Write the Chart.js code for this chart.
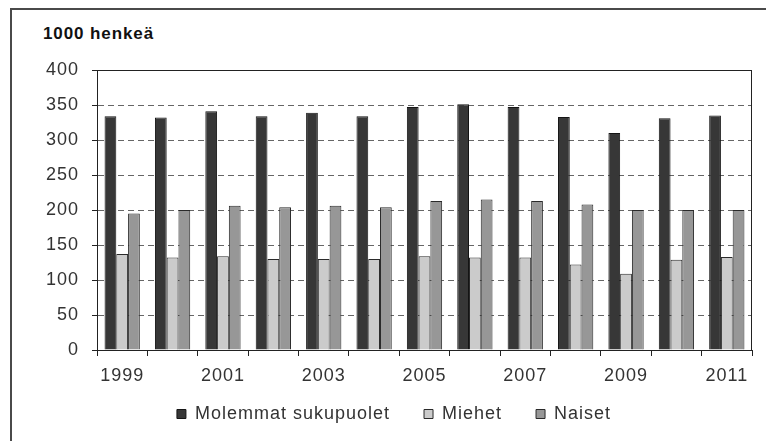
<!DOCTYPE html>
<html>
<head>
<meta charset="utf-8">
<script src="https://cdn.jsdelivr.net/npm/chart.js@4/dist/chart.umd.min.js"></script>
<style>
    html, body { margin: 0; padding: 0; background: #fff; }
    .wrap { position: relative; width: 766px; height: 441px; overflow: hidden; }
    .frame { position: absolute; left: 10px; top: 8px; width: 800px; height: 500px;
             border-top: 2px solid #4a4a4a; border-left: 2px solid #4a4a4a; }
    .unit { position: absolute; left: 43px; top: 24px; font: bold 17px "Liberation Sans", Arial, sans-serif;
            color: #111; letter-spacing: 0.9px; }
    canvas { position: absolute; left: 0; top: 0; }
</style>
</head>
<body>
<div class="wrap">
    <div class="frame"></div>
    <div class="unit">1000 henkeä</div>
    <canvas id="chart" width="766" height="441"></canvas>
</div>
<script>
const years = ["1999", "2000", "2001", "2002", "2003", "2004", "2005", "2006", "2007", "2008", "2009", "2010", "2011"];
const seriesNames = ["Molemmat sukupuolet", "Miehet", "Naiset"];
const both = [334, 332, 341, 334, 339, 334, 347, 351, 347, 333, 310, 331, 335];
const men = [137, 132, 134, 130, 130, 130, 134, 132, 132, 122, 109, 129, 133];
const women = [195, 200, 206, 204, 206, 204, 213, 215, 213, 208, 200, 200, 200];
const yTicks = [0, 50, 100, 150, 200, 250, 300, 350, 400];

const font = "'Liberation Sans', Arial, sans-serif";

// boxes the plot area like the excel chart, and nudges the wide-spaced legend into place
const plotFrame = {
    id: "plotFrame",
    beforeLayout(chart) { chart.ctx.letterSpacing = "1px"; },
    afterLayout(chart) {
        chart.legend.top -= 16;
        chart.legend.bottom -= 16;
        chart.legend.left += 18;
        chart.legend.right += 18;
    },
    beforeDraw(chart) { chart.ctx.letterSpacing = "1px"; },
    afterDatasetsDraw(chart) {
        const a = chart.chartArea, ctx = chart.ctx;
        ctx.save();
        ctx.strokeStyle = "#222";
        ctx.lineWidth = 1;
        ctx.strokeRect(a.left + 0.5, a.top + 0.5, a.right - a.left - 1, a.bottom - a.top);
        ctx.restore();
    }
};

new Chart(document.getElementById("chart"), {
    type: "bar",
    data: {
        labels: years,
        datasets: [
            { label: seriesNames[0], data: both, backgroundColor: "#373737", borderColor: "#151515", borderWidth: 1 },
            { label: seriesNames[1], data: men, backgroundColor: "#cbcbcb", borderColor: "#2a2a2a", borderWidth: 1 },
            { label: seriesNames[2], data: women, backgroundColor: "#979797", borderColor: "#2a2a2a", borderWidth: 1 }
        ]
    },
    options: {
        responsive: false,
        animation: false,
        categoryPercentage: 0.7,
        barPercentage: 1,
        layout: { padding: { top: 70, right: 14, bottom: -8, left: 0 } },
        scales: {
            x: {
                grid: { drawOnChartArea: false, drawTicks: true, tickLength: 6, color: "#222", offset: true },
                border: { color: "#222", width: 1 },
                ticks: {
                    autoSkip: false, maxRotation: 0, padding: 9, color: "#333",
                    font: { family: font, size: 18 },
                    callback: (v, i) => i % 2 === 0 ? years[i] : ""
                },
                afterFit: s => { s.height = 37; }
            },
            y: {
                min: 0, max: 400,
                afterBuildTicks: s => { s.ticks = yTicks.map(v => ({ value: v })); },
                grid: { color: "#666", tickColor: "#222", tickLength: 5, tickBorderDash: [] },
                border: { color: "#222", width: 1, dash: [6, 4] },
                ticks: { padding: 13, color: "#333", font: { family: font, size: 18 } },
                afterFit: s => { s.width = 97; }
            }
        },
        plugins: {
            legend: {
                position: "bottom",
                labels: { boxWidth: 9, boxHeight: 9, padding: 34, color: "#333", font: { family: font, size: 18 } }
            },
            tooltip: { enabled: false }
        }
    },
    plugins: [plotFrame]
});
</script>
</body>
</html>
